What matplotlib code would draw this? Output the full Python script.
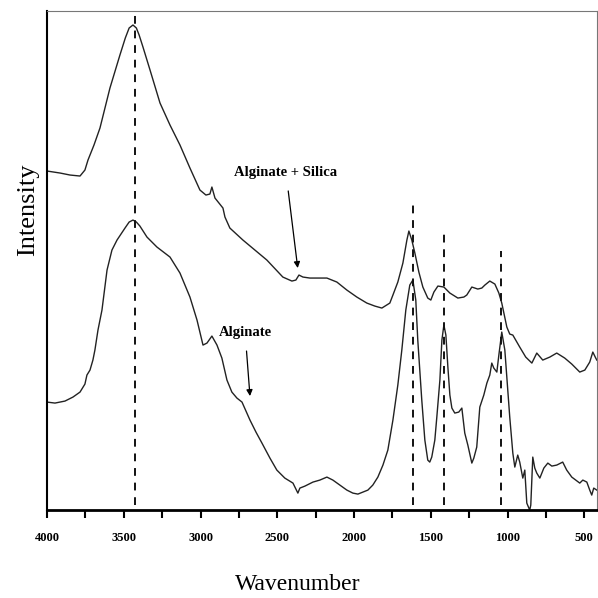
import matplotlib
matplotlib.use("Agg")
import matplotlib.pyplot as plt

# ---------------- data ----------------
silica_wn = [4000, 3915, 3850, 3785, 3753, 3733, 3694, 3655, 3590, 3525, 3490, 3465, 3440, 3418, 3400, 3375,
             3329, 3264, 3199, 3134, 3069, 3004, 2965, 2939, 2926, 2906, 2880, 2854, 2841, 2809,
             2724, 2646, 2568, 2464, 2405, 2379, 2359, 2333, 2288, 2177, 2112, 2047, 1982, 1917,
             1865, 1819, 1767, 1747, 1715, 1682, 1656, 1643, 1624, 1604, 1578, 1552, 1520, 1500,
             1480, 1454, 1415, 1376, 1324, 1285, 1266, 1233, 1194, 1168, 1148, 1116, 1083, 1057,
             1038, 1005, 986, 966, 921, 882, 842, 810, 771, 725, 680, 628, 582, 530, 497, 465,
             445, 426, 419]
silica_int = [339, 337, 335, 334, 340, 350, 365, 382, 422, 455, 472, 482, 485, 482, 475, 463,
              440, 407, 385, 365, 342, 320, 315, 316, 323, 312, 307, 302, 293, 282,
              270, 260, 250, 233, 229, 230, 235, 233, 232, 232, 228, 220, 213, 207,
              204, 202, 207, 215, 228, 247, 270, 279, 270, 257, 238, 223, 212, 210,
              218, 224, 223, 217, 212, 213, 215, 223, 221, 222, 225, 229, 226, 217,
              207, 183, 176, 175, 163, 153, 147, 157, 150, 153, 157, 152, 146, 138, 140, 148,
              158, 152, 150]

alginate_wn = [4000, 3948, 3883, 3831, 3785, 3753, 3740, 3720, 3701, 3688, 3668, 3642, 3609, 3577,
               3544, 3492, 3465, 3440, 3418, 3395, 3349, 3284, 3199, 3134, 3069, 3023, 2984, 2958,
               2926, 2893, 2861, 2828, 2796, 2763, 2730, 2678, 2639, 2600, 2548, 2503, 2451, 2398,
               2366, 2353, 2320, 2268, 2223, 2177, 2138, 2092, 2047, 2008, 1975, 1943, 1910, 1878,
               1845, 1812, 1780, 1747, 1715, 1689, 1663, 1637, 1617, 1598, 1585, 1559, 1539, 1520,
               1507, 1494, 1474, 1461, 1441, 1428, 1415, 1402, 1389, 1376, 1363, 1344, 1318, 1298,
               1279, 1259, 1233, 1220, 1201, 1181, 1155, 1135, 1116, 1103, 1090, 1070, 1057, 1038,
               1018, 999, 986, 966, 953, 934, 921, 901, 888, 875, 856, 849, 836, 823, 810, 790,
               764, 738, 712, 680, 641, 615, 582, 556, 530, 510, 484, 465, 452, 439, 419]
alginate_int = [108, 107, 109, 113, 118, 126, 135, 140, 150, 160, 180, 200, 240, 260,
                270, 282, 288, 290, 288, 284, 273, 263, 253, 237, 213, 190, 165, 167,
                174, 165, 152, 130, 118, 112, 108, 90, 78, 67, 52, 40, 32, 27,
                17, 22, 24, 28, 30, 33, 30, 25, 20, 17, 16, 18, 20, 25,
                33, 45, 60, 90, 125, 160, 200, 225, 230, 210, 170, 110, 70, 50,
                48, 53, 70, 93, 130, 170, 185, 175, 143, 115, 102, 97, 98, 102,
                77, 65, 47, 52, 63, 103, 115, 127, 135, 147, 142, 138, 155, 178,
                160, 120, 93, 57, 43, 55, 48, 32, 40, 7, 0, 5, 53, 42, 37, 32,
                42, 47, 44, 45, 48, 40, 33, 30, 27, 30, 28, 20, 15, 22, 20]

marker_wn = [3430, 1617, 1415, 1044]
marker_top = [495, 307, 277, 259]
marker_bottom = 5

xticks = [4000, 3500, 3000, 2500, 2000, 1500, 1000, 500]
xminor = [3750, 3250, 2750, 2250, 1750, 1250, 750]

# ---------------- plot ----------------
fig = plt.figure(figsize=(5.98, 5.98), dpi=100)
ax = fig.add_axes([0.0786, 0.147, 0.9194, 0.8346])

line_col = "#222222"
ax.plot(silica_wn, silica_int, color=line_col, lw=1.0)
ax.plot(alginate_wn, alginate_int, color=line_col, lw=1.0)

for w, t in zip(marker_wn, marker_top):
    ax.plot([w, w], [marker_bottom, t], color="#111111", lw=1.4,
            linestyle=(0, (4, 3.5)))

ax.set_xlim(4000, 419)
ax.set_ylim(0, 499)

ax.set_xticks(xticks)
ax.set_xticks(xminor, minor=True)
ax.set_xticklabels([str(v) for v in xticks], fontfamily="Liberation Serif",
                   fontweight="bold", fontsize=9)
ax.tick_params(axis="x", which="both", direction="out", length=6, width=1.5,
               color="black", pad=10)
ax.set_yticks([])

for s in ["top", "right"]:
    ax.spines[s].set_color("#777777")
    ax.spines[s].set_linewidth(0.8)
ax.spines["left"].set_linewidth(1.5)
ax.spines["bottom"].set_linewidth(2.0)

ax.annotate("Alginate + Silica", xy=(2367, 242), xytext=(2444, 338),
            fontfamily="Liberation Serif", fontweight="bold", fontsize=10.5,
            ha="center", va="center",
            arrowprops=dict(arrowstyle="-|>", color="black", lw=0.9,
                            mutation_scale=9, shrinkA=7, shrinkB=0))
ax.annotate("Alginate", xy=(2678, 114), xytext=(2710, 178),
            fontfamily="Liberation Serif", fontweight="bold", fontsize=10.5,
            ha="center", va="center",
            arrowprops=dict(arrowstyle="-|>", color="black", lw=0.9,
                            mutation_scale=9, shrinkA=7, shrinkB=0))

fig.text(0.047, 0.65, "Intensity", rotation=90, fontfamily="Liberation Serif",
         fontsize=19, ha="center", va="center")
fig.text(0.498, 0.022, "Wavenumber", fontfamily="Liberation Serif",
         fontsize=17, ha="center", va="center")

fig.savefig("out.png", dpi=100, facecolor="white")
